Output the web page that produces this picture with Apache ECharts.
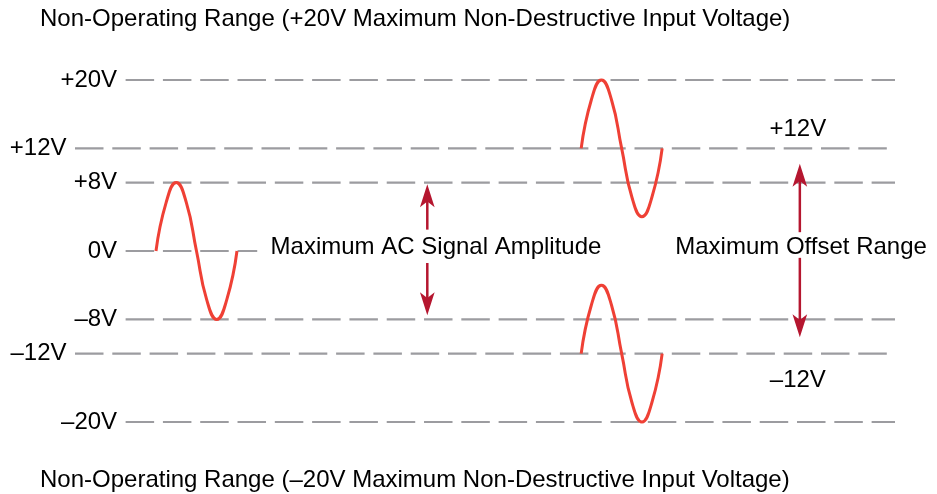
<!DOCTYPE html>
<html><head><meta charset="utf-8">
<script src="https://cdn.jsdelivr.net/npm/echarts@6/dist/echarts.min.js"></script>
<style>html,body{margin:0;padding:0;background:#fff}#c{width:937px;height:494px}</style>
</head><body><div id="c"></div>
<script>
// Voltage levels (dashed reference lines) and their labels
const levels = [20, 12, 8, 0, -8, -12, -20];
const levelLabels = ['+20V', '+12V', '+8V', '0V', '–8V', '–12V', '–20V'];
// Horizontal extent of each reference line (time units)
const levelStart = [2.5, 0, 2.5, 2.5, 2.5, 0, 2.5];
const levelEnd = [40.5, 40.5, 40.5, 9, 40.5, 40.5, 40.5];

// One sine period read at eighth-period steps (volts, relative to offset)
const wavePhase = [0, 0.5, 1, 1.5, 2, 2.5, 3, 3.5, 4];
const waveShape = [0, 5.66, 8, 5.66, 0, -5.66, -8, -5.66, 0];
// Three signals: start time and DC offset
const waveStart = [4, 25, 25];
const waveOffset = [0, 12, -12];

// Arrows: x, tail, tip (volts)
const arrowX = [17.4, 17.4, 35.8, 35.8];
const arrowTail = [2.5, -1.4, 2.2, -0.8];
const arrowTip = [7.8, -7.5, 10.2, -10.1];

// Annotation texts
const noteText = ['Maximum AC Signal Amplitude', 'Maximum Offset Range', '+12V', '–12V'];
const noteX = [17.83, 35.86, 35.7, 35.7];
const noteY = [0.47, 0.47, 14.17, -15.08];

const topTitle = 'Non-Operating Range (+20V Maximum Non-Destructive Input Voltage)';
const bottomTitle = 'Non-Operating Range (–20V Maximum Non-Destructive Input Voltage)';

const FONT = "'Liberation Sans', Arial, Helvetica, sans-serif";
const FS = 24;
const GRAY = '#9c9ca0';
const RED = '#ef4035';
const CRIMSON = '#b5162f';
const INK = '#000';

const series = [];
levels.forEach((v, i) => {
  series.push({
    type: 'line', silent: true, symbol: 'none', clip: false, z: 1,
    data: [[levelStart[i], v], [levelEnd[i], v]],
    lineStyle: { color: GRAY, width: 2.2, type: [28.5, 8.8] }
  });
});
series.push({
  type: 'scatter', silent: true, symbolSize: 1, clip: false,
  itemStyle: { color: 'rgba(0,0,0,0)', opacity: 1 },
  data: levels.map((v, i) => ({ value: [levelStart[i], v], name: levelLabels[i] })),
  label: { show: true, position: 'left', distance: 8, formatter: p => p.name,
    color: INK, fontSize: FS, fontFamily: FONT }
});
waveStart.forEach((s, k) => {
  series.push({
    type: 'line', silent: true, symbol: 'none', clip: false, z: 3, smooth: 0.5,
    data: wavePhase.map((p, j) => [s + p, waveOffset[k] + waveShape[j]]),
    lineStyle: { color: RED, width: 3 }
  });
});
arrowX.forEach((x, i) => {
  const up = arrowTip[i] > arrowTail[i];
  series.push({
    type: 'line', silent: true, symbol: 'none', clip: false, z: 4,
    data: [[x, arrowTail[i]], [x, arrowTip[i] + (up ? -1 : 1)]],
    lineStyle: { color: CRIMSON, width: 2.5 }
  });
  series.push({
    type: 'scatter', silent: true, clip: false, z: 5,
    symbol: 'arrow', symbolSize: [11, 23], symbolRotate: up ? 0 : 180,
    itemStyle: { color: CRIMSON, opacity: 1 },
    data: [[x, arrowTip[i]]]
  });
});
series.push({
  type: 'scatter', silent: true, symbolSize: 1, clip: false,
  itemStyle: { color: 'rgba(0,0,0,0)', opacity: 1 },
  data: noteText.map((t, i) => ({ value: [noteX[i], noteY[i]], name: t })),
  label: { show: true, position: 'inside', formatter: p => p.name,
    color: INK, fontSize: FS, fontFamily: FONT }
});

const chart = echarts.init(document.getElementById('c'), null, { renderer: 'canvas' });
chart.setOption({
  animation: false,
  backgroundColor: '#fff',
  grid: { left: 75, right: 42, top: 80, bottom: 72 },
  xAxis: { type: 'value', min: 0, max: 40.5, show: false },
  yAxis: { type: 'value', min: -20, max: 20, show: false },
  graphic: [
    { type: 'text', x: 40, y: 19, style: { text: topTitle, font: FS + 'px ' + FONT, fill: INK, textVerticalAlign: 'middle' } },
    { type: 'text', x: 40, y: 480, style: { text: bottomTitle, font: FS + 'px ' + FONT, fill: INK, textVerticalAlign: 'middle' } }
  ],
  series: series
});
</script>
</body></html>
